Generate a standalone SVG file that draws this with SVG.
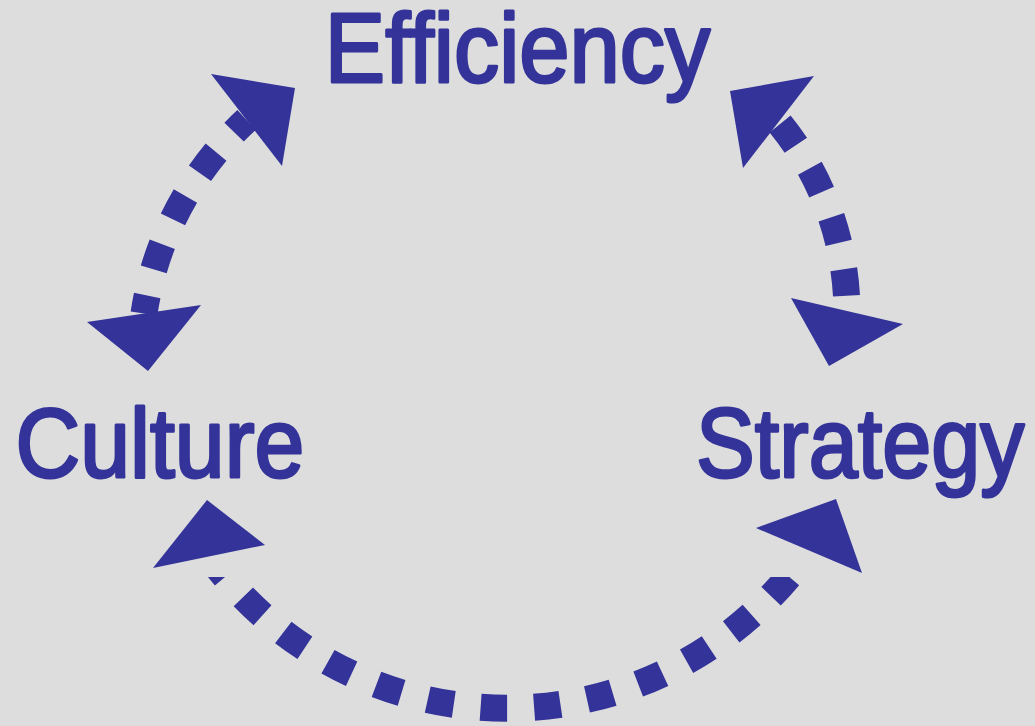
<svg xmlns="http://www.w3.org/2000/svg" width="1035" height="726" viewBox="0 0 1035 726">
<style>
.lbl{font-family:"Liberation Sans",Arial,sans-serif;font-size:99px;fill:#333399;stroke:#333399;stroke-width:3;stroke-linejoin:round;}
.arc{fill:none;stroke:#333399;stroke-width:27;stroke-dasharray:26.5 27;}
.head{fill:#333399;stroke:none;}
</style>
<defs>
<clipPath id="clipBottom"><rect x="0" y="577" width="1035" height="149"/></clipPath>
</defs>
<rect x="0" y="0" width="1035" height="726" fill="#DDDDDD"/>
<g id="connectors">
<g id="arc-culture-efficiency">
<path class="arc" d="M 246.5 120 A 330 330 0 0 0 144 313.5" stroke-dashoffset="9.15"/>
<polygon class="head" points="211,74 295,88 282,166"/>
<polygon class="head" points="87,322 201,305 148,371"/>
</g>
<g id="arc-efficiency-strategy">
<path class="arc" d="M 778.5 122 A 301 301 0 0 1 847 311" stroke-dashoffset="-2.55"/>
<polygon class="head" points="814,76 730,91 743,168"/>
<polygon class="head" points="791,298 903,324 829,366"/>
</g>
<g id="arc-culture-strategy">
<path class="arc" d="M 209 556 A 367.5 367.5 0 0 0 809 550" stroke-dashoffset="0" clip-path="url(#clipBottom)"/>
<polygon class="head" points="207,500 153,568 265,545"/>
<polygon class="head" points="836,499 756,528 862,573"/>
</g>
</g>
<g id="node-efficiency">
<text class="lbl" transform="translate(324.8 82) scale(0.914 1)" x="0" y="0">Efficiency</text>
</g>
<g id="node-culture">
<text class="lbl" transform="translate(15.5 477) scale(0.905 1)" x="0" y="0">Culture</text>
</g>
<g id="node-strategy">
<text class="lbl" transform="translate(696 477) scale(0.891 1)" x="0" y="0">Strategy</text>
</g>
</svg>
